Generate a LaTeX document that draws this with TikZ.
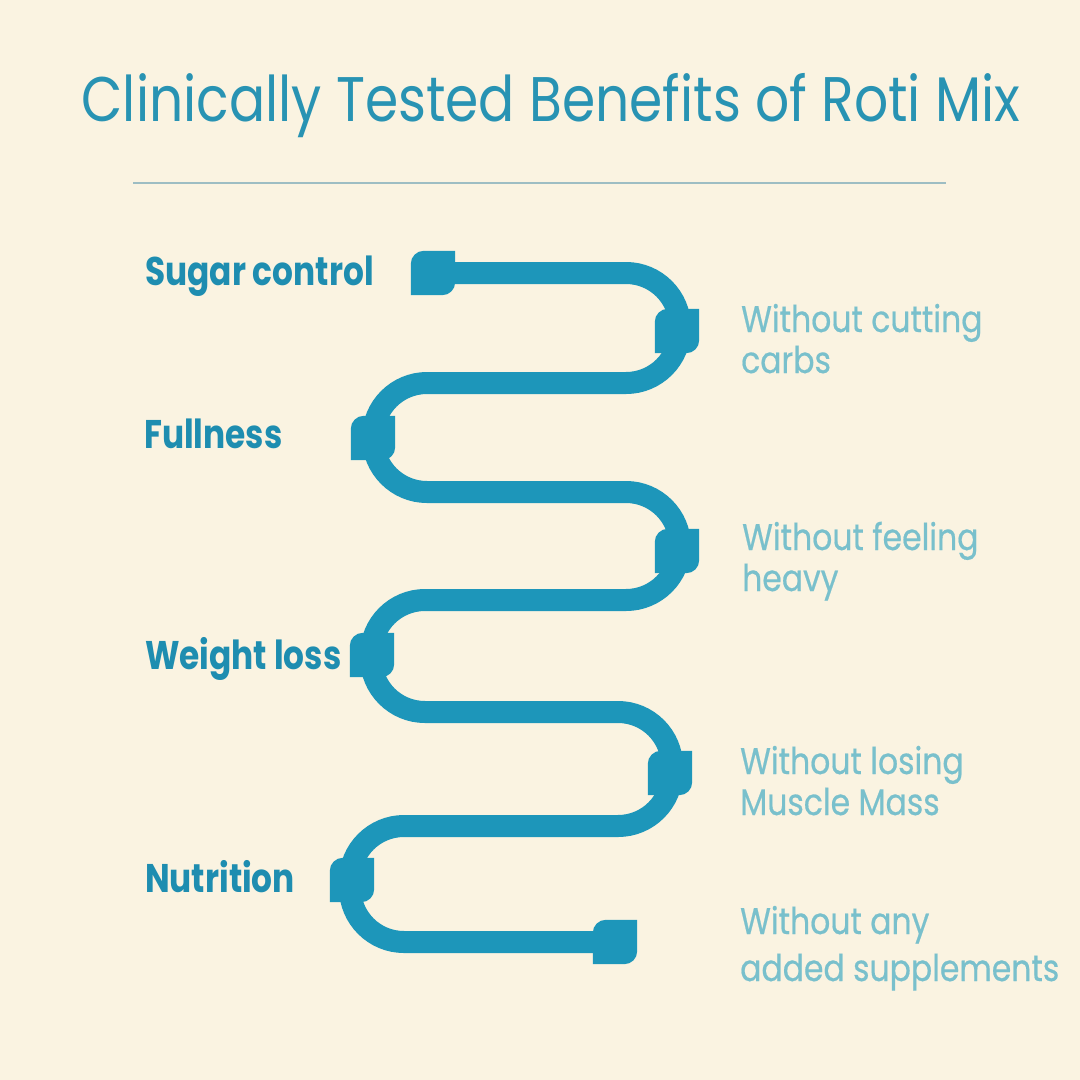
\documentclass[tikz,border=0pt]{standalone}
\usepackage{fontspec}
\setmainfont{Poppins}
\newfontfamily\titlefont{Poppins}[FakeStretch=0.85]
\newfontfamily\benefitfont{Poppins}[FakeStretch=0.82]
\newfontfamily\withoutfont{Poppins}[FakeStretch=0.85,FakeBold=0.5]
\definecolor{cream}{HTML}{FAF3E1}
\definecolor{snakeblue}{HTML}{1D96BA}
\definecolor{titleblue}{HTML}{2893B3}
\definecolor{leftblue}{HTML}{1E8DB0}
\definecolor{lightteal}{HTML}{79C0CC}
\definecolor{rulegrey}{HTML}{9DBDC3}

\begin{document}
\begin{tikzpicture}[x=1pt,y=1pt,
  band/.style={draw=snakeblue,line width=22pt,rounded corners=54pt},
  leafcap/.style={minimum size=44pt,inner sep=0pt},
  titletext/.style={anchor=base,text=titleblue,inner sep=0pt,font=\titlefont\fontsize{63}{70}\selectfont},
  benefit/.style={anchor=base west,text=leftblue,inner sep=0pt,font=\benefitfont\bfseries\fontsize{40}{44}\selectfont},
  without/.style={anchor=base west,align=left,text=lightteal,inner sep=0pt,font=\withoutfont\fontsize{37}{41}\selectfont}]

\fill[cream] (0,0) rectangle (1080,-1080);

\node[titletext] (title) at (551,-121) {Clinically Tested Benefits of Roti Mix};
\draw[rulegrey,line width=2pt] (133,-183) -- (946,-183);

% caps along the snake
\node[leafcap] (cap1) at (433,-273) {};
\node[leafcap] (cap2) at (677,-331) {};
\node[leafcap] (cap3) at (373,-438) {};
\node[leafcap] (cap4) at (677,-551) {};
\node[leafcap] (cap5) at (372,-655) {};
\node[leafcap] (cap6) at (670,-773) {};
\node[leafcap] (cap7) at (352,-880) {};
\node[leafcap] (cap8) at (615,-942) {};

\draw[band] (cap1.center) -- (680,-273) -- (680,-383) -- (373,-383)
  -- (373,-492) -- (680,-492) -- (680,-600) -- (371,-600)
  -- (371,-712) -- (672,-712) -- (672,-826) -- (350,-826)
  -- (350,-942) -- (cap8.center);

\foreach \i in {1,...,8}
  \fill[snakeblue] (cap\i.north east) -- ([yshift=13pt]cap\i.south east)
    arc[start angle=0,end angle=-90,radius=13pt] -- (cap\i.south west)
    -- ([yshift=-13pt]cap\i.north west)
    arc[start angle=180,end angle=90,radius=13pt] -- cycle;

% left labels
\node[benefit] (sugar) at (145,-285) {Sugar control};
\node[benefit] (full) at (144,-448) {Fullness};
\node[benefit] (weight) at (145,-669) {Weight loss};
\node[benefit] (nutri) at (145,-892) {Nutrition};

% right labels (base = last line)
\node[without] (carbs) at (741,-373) {Without cutting\\carbs};
\node[without] (heavy) at (742,-591) {Without feeling\\heavy};
\node[without] (muscle) at (740,-815) {Without losing\\Muscle Mass};
\node[without] (suppl) at (740,-981) {Without any\\[6pt]added supplements};
\end{tikzpicture}
\end{document}
